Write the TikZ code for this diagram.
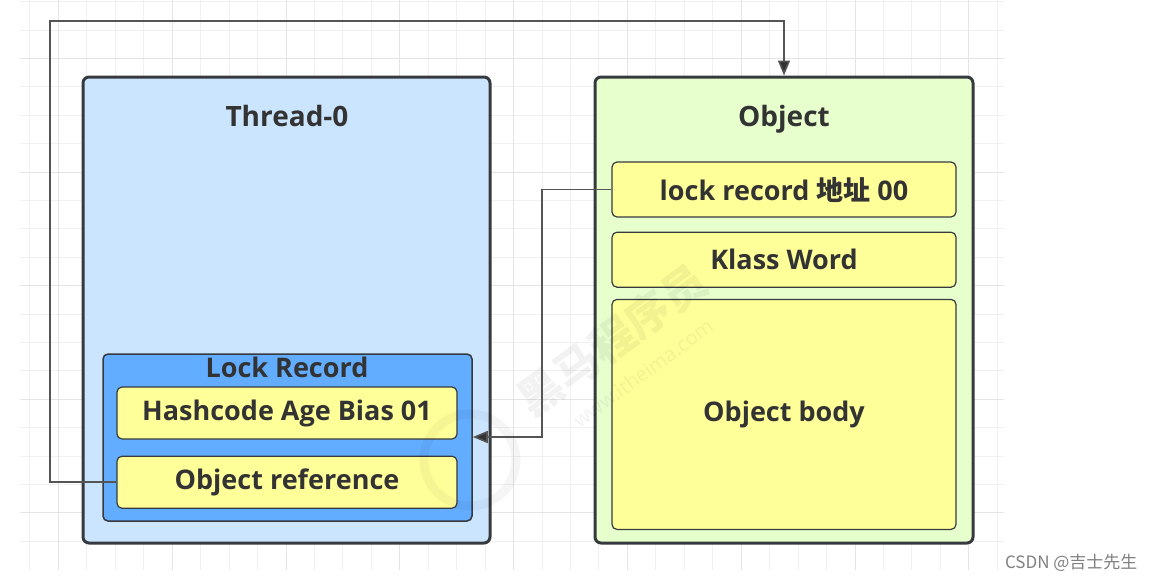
\documentclass[tikz,border=0pt]{standalone}
\usepackage{fontspec}
\setmainfont{Open Sans}
\newfontfamily\cjk{Noto Sans CJK SC}
\usetikzlibrary{shapes, arrows.meta, positioning, calc}

\definecolor{threadblue}{HTML}{CCE5FF}
\definecolor{recordblue}{HTML}{62ADFF}
\definecolor{objgreen}{HTML}{E6FFCC}
\definecolor{fieldyellow}{HTML}{FFFF99}
\definecolor{boxline}{HTML}{36393D}
\definecolor{textdark}{HTML}{333333}
\definecolor{linkgray}{HTML}{555555}
\definecolor{gridminor}{HTML}{F0F0F0}
\definecolor{gridmajor}{HTML}{E4E4E4}

\tikzset{
    panel/.style={draw=boxline, line width=3pt, rounded corners=6pt, inner sep=0pt},
    field/.style={draw=boxline, fill=fieldyellow, line width=1.2pt, rounded corners=5pt, inner sep=0pt,
        minimum width=340pt, minimum height=52pt, text=textdark, font=\fontsize{27}{30}\selectfont\bfseries},
    title/.style={anchor=base, text=textdark, font=\fontsize{28}{32}\selectfont\bfseries},
    link/.style={draw=linkgray, line width=1.6pt, -{Triangle[length=15pt,width=12pt,fill=textdark]}},
}

\begin{document}
\begin{tikzpicture}[x=1pt, y=-1pt]
    \useasboundingbox[fill=white] (0,0) rectangle (1155,582);
    \foreach \k in {1,...,35} {\draw[gridminor, line width=1pt] ({1.5+28.45*\k},0) -- ({1.5+28.45*\k},570);}
    \foreach \k in {0,...,19} {\draw[gridminor, line width=1pt] (20,{1.7+28.4*\k}) -- (1004,{1.7+28.4*\k});}
    \foreach \k in {2,6,...,34} {\draw[gridmajor, line width=1pt] ({1.5+28.45*\k},0) -- ({1.5+28.45*\k},570);}
    \foreach \k in {2,6,...,18} {\draw[gridmajor, line width=1pt] (20,{1.7+28.4*\k}) -- (1004,{1.7+28.4*\k});}

    \node[panel, fill=threadblue, minimum width=407pt, minimum height=466pt] (thread) at (286.5,310) {};
    \node[panel, fill=objgreen, minimum width=378pt, minimum height=466pt] (obj) at (784,310) {};
    \node[title] (threadtitle) at (287,126) {Thread-0};
    \node[title] (objtitle) at (784,126) {Object};

    \node[draw=boxline, fill=recordblue, line width=1.5pt, rounded corners=5pt, inner sep=0pt,
        minimum width=369pt, minimum height=167pt] (lockrec) at (287.5,437.5) {};
    \node[anchor=base, text=textdark, font=\fontsize{27}{30}\selectfont\bfseries] (lockrectitle) at (287,377) {Lock Record};
    \node[field] (hash) at (287,413) {Hashcode Age Bias 01};
    \node[field, below=16pt of hash] (objref) {Object reference};

    \node[field, minimum width=344pt, minimum height=55pt] (lockaddr) at (784,189.5) {lock record {\cjk\bfseries 地址} 00};
    \node[field, minimum width=344pt, minimum height=55pt, below=14pt of lockaddr] (klass) {Klass Word};
    \node[field, minimum width=344pt, minimum height=230pt, below=11pt of klass] (body) {Object body};

    \node[rotate=36, text=black, opacity=0.05, font=\cjk\fontsize{44}{44}\selectfont\bfseries] (wmcn) at (612,340) {黑马程序员};
    \node[rotate=36, text=black, opacity=0.05, font=\fontsize{20}{20}\selectfont] (wmen) at (643,373) {www.itheima.com};
    \node[circle, draw=black, draw opacity=0.04, line width=9pt, minimum size=92pt] (wmlogo) at (470,460) {};

    \coordinate (topbend) at (50,21);
    \coordinate (midbend) at (542,437);
    \draw[link] (objref.west) -| (topbend) -| (obj.north);
    \draw[link] (lockaddr.west) -| (midbend) -- (lockrec.east |- midbend);

    \node[text=gray, font=\cjk\fontsize{17}{17}\selectfont, anchor=east] (csdn) at (1141,563) {CSDN @吉士先生};
\end{tikzpicture}
\end{document}
